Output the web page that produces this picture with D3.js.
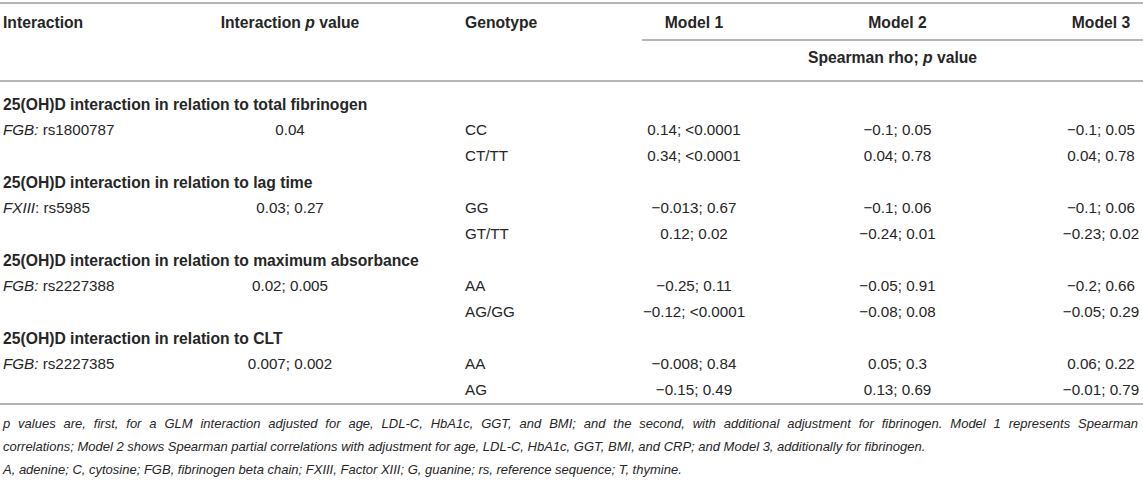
<!DOCTYPE html>
<html><head><meta charset="utf-8">
<script src="https://cdn.jsdelivr.net/npm/d3@7"></script>
<style>
html,body{margin:0;padding:0;background:#fff;}
svg{display:block;font-family:"Liberation Sans",Arial,Helvetica,sans-serif;}
</style></head>
<body><div id="chart"></div>
<script>
// ---- data ----
const headers = ["Interaction", "Interaction p value", "Genotype"];
const models = ["Model 1", "Model 2", "Model 3"];
const subHeader = "Spearman rho; p value";
const sections = [
  "25(OH)D interaction in relation to total fibrinogen",
  "25(OH)D interaction in relation to lag time",
  "25(OH)D interaction in relation to maximum absorbance",
  "25(OH)D interaction in relation to CLT"
];
const genes = ["FGB:", "FXIII", "FGB:", "FGB:"];
const snps = [" rs1800787", ": rs5985", " rs2227388", " rs2227385"];
const interactionP = ["0.04", "0.03; 0.27", "0.02; 0.005", "0.007; 0.002"];
const genotypes = [["CC", "CT/TT"], ["GG", "GT/TT"], ["AA", "AG/GG"], ["AA", "AG"]];
const model1 = [["0.14; <0.0001", "0.34; <0.0001"], ["\u22120.013; 0.67", "0.12; 0.02"], ["\u22120.25; 0.11", "\u22120.12; <0.0001"], ["\u22120.008; 0.84", "\u22120.15; 0.49"]];
const model2 = [["\u22120.1; 0.05", "0.04; 0.78"], ["\u22120.1; 0.06", "\u22120.24; 0.01"], ["\u22120.05; 0.91", "\u22120.08; 0.08"], ["0.05; 0.3", "0.13; 0.69"]];
const model3 = [["\u22120.1; 0.05", "0.04; 0.78"], ["\u22120.1; 0.06", "\u22120.23; 0.02"], ["\u22120.2; 0.66", "\u22120.05; 0.29"], ["0.06; 0.22", "\u22120.01; 0.79"]];
const footnotes = [
  "p values are, first, for a GLM interaction adjusted for age, LDL-C, HbA1c, GGT, and BMI; and the second, with additional adjustment for fibrinogen. Model 1 represents Spearman",
  "correlations; Model 2 shows Spearman partial correlations with adjustment for age, LDL-C, HbA1c, GGT, BMI, and CRP; and Model 3, additionally for fibrinogen.",
  "A, adenine; C, cytosine; FGB, fibrinogen beta chain; FXIII, Factor XIII; G, guanine; rs, reference sequence; T, thymine."
];

// ---- layout ----
const W = 1143, H = 482;
const FB = 15.7, FS = 15.2, FN = 13;
const textCol = "#262626", ruleCol = "#b4b4b4";
const svg = d3.select("#chart").append("svg").attr("width", W).attr("height", H);

const xModel = d3.scalePoint().domain(models).range([694, 1101]);
const xInter = 3, xP = 290, xGeno = 465;
const ySec = d3.scaleLinear().domain([0, 3]).range([104, 338]);
const rowOff = [26, 52];
const base = (y, f) => y + f * 0.36;

function rule(y, x1, x2) {
  svg.append("line").attr("x1", x1).attr("x2", x2).attr("y1", y).attr("y2", y)
    .attr("stroke", ruleCol).attr("stroke-width", 1.8);
}
rule(3, 0, W);
rule(40, 642, W);
rule(81, 0, W);
rule(404, 0, W);

const g = svg.append("g").attr("fill", textCol).attr("font-size", FS);
const bold = sel => sel.attr("font-weight", "bold").attr("font-size", FB);

// header row
bold(g.append("text")).attr("x", xInter).attr("y", base(22, FB)).text(headers[0]);
const hp = bold(g.append("text")).attr("x", xP).attr("y", base(22, FB)).attr("text-anchor", "middle");
hp.append("tspan").text("Interaction ");
hp.append("tspan").attr("font-style", "italic").text("p");
hp.append("tspan").text(" value");
bold(g.append("text")).attr("x", xGeno).attr("y", base(22, FB)).text(headers[2]);
bold(g.selectAll("text.model").data(models).join("text").attr("class", "model"))
  .attr("x", d => xModel(d)).attr("y", base(22, FB)).attr("text-anchor", "middle").text(d => d);
const sh = bold(g.append("text")).attr("x", (642 + W) / 2).attr("y", base(57, FB)).attr("text-anchor", "middle");
sh.append("tspan").text("Spearman rho; ");
sh.append("tspan").attr("font-style", "italic").text("p");
sh.append("tspan").text(" value");

// sections
sections.forEach((s, i) => {
  const y0 = ySec(i);
  bold(g.append("text")).attr("x", xInter).attr("y", base(y0, FB)).text(s);
  const r1 = y0 + rowOff[0];
  const t = g.append("text").attr("x", xInter).attr("y", base(r1, FS));
  t.append("tspan").attr("font-style", "italic").text(genes[i]);
  t.append("tspan").text(snps[i]);
  g.append("text").attr("x", xP).attr("y", base(r1, FS)).attr("text-anchor", "middle").text(interactionP[i]);
  rowOff.forEach((o, j) => {
    const y = base(y0 + o, FS);
    g.append("text").attr("x", xGeno).attr("y", y).text(genotypes[i][j]);
    [model1, model2, model3].forEach((m, k) => {
      g.append("text").attr("x", xModel(models[k])).attr("y", y).attr("text-anchor", "middle").text(m[i][j]);
    });
  });
});

// footnotes: first line justified to the table width
const fy = [423, 446, 469];
const fnG = svg.append("g").attr("fill", textCol).attr("font-style", "italic").attr("font-size", FN);
footnotes.forEach((f, i) => {
  const t = fnG.append("text").attr("x", 3).attr("y", base(fy[i], FN)).text(f);
  if (i === 0) {
    const l1 = t.node().getComputedTextLength();
    const spaces = f.split(" ").length - 1;
    t.attr("word-spacing", Math.max(0, (1135 - l1) / spaces));
  }
});
</script></body></html>
